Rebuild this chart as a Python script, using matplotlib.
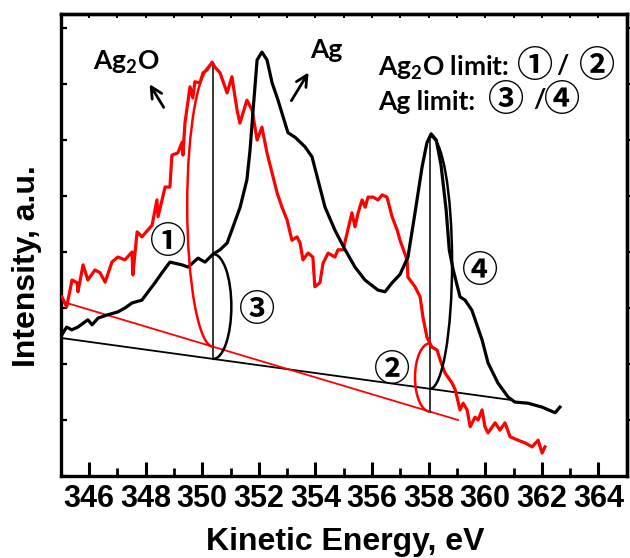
import matplotlib
matplotlib.use('Agg')
import matplotlib.pyplot as plt
from matplotlib.patches import Arc
from matplotlib.ticker import MultipleLocator
import numpy as np

# ---------------- data ----------------
ag_x = [345.04, 345.21, 345.39, 345.61, 345.96, 346.11, 346.32, 346.67, 347.02, 347.27,
        347.52, 347.87, 348.09, 348.33, 348.58, 348.86, 349.29, 349.50, 349.85, 350.10,
        350.38, 350.63, 350.88, 351.09, 351.34, 351.58, 351.69, 351.80, 351.94, 352.11,
        352.29, 352.47, 352.68, 353.03, 353.28, 353.63, 353.88, 354.09, 354.34, 354.69,
        355.05, 355.40, 355.75, 356.21, 356.46, 356.71, 356.99, 357.27, 357.52, 357.77,
        357.94, 358.09, 358.27, 358.44, 358.62, 358.73, 358.87, 359.11, 359.29, 359.53,
        359.89, 360.10, 360.45, 360.81, 361.05, 361.51, 362.01, 362.47, 362.64]
ag_y = [2.52, 2.66, 2.61, 2.66, 2.79, 2.70, 2.82, 2.88, 2.93, 3.00,
        3.09, 3.14, 3.29, 3.45, 3.63, 3.82, 3.77, 3.73, 3.89, 3.82,
        3.96, 4.04, 4.16, 4.45, 4.80, 5.29, 5.82, 6.54, 7.43, 7.57,
        7.43, 7.02, 6.71, 6.13, 6.05, 5.88, 5.70, 5.29, 4.80, 4.39,
        4.04, 3.73, 3.50, 3.32, 3.29, 3.45, 3.60, 3.91, 4.70, 5.52,
        5.95, 6.11, 6.00, 5.55, 4.75, 4.04, 3.68, 3.20, 3.14, 2.96,
        2.43, 2.02, 1.66, 1.41, 1.32, 1.30, 1.23, 1.13, 1.23]

ag2o_x = [345.04, 345.21, 345.33, 345.40, 345.58, 345.61, 345.79, 345.96, 346.21, 346.39,
          346.57, 346.81, 347.02, 347.27, 347.52, 347.55, 347.70, 347.87, 348.23, 348.40,
          348.44, 348.69, 348.86, 348.93, 349.14, 349.29, 349.32, 349.39, 349.57, 349.67,
          349.74, 349.92, 350.03, 350.17, 350.35, 350.45, 350.63, 350.88, 351.05, 351.23,
          351.33, 351.58, 351.76, 351.94, 352.11, 352.29, 352.47, 352.65, 352.82, 353.00,
          353.17, 353.35, 353.46, 353.56, 353.74, 353.91, 353.98, 354.16, 354.27, 354.45,
          354.69, 354.80, 354.98, 355.29, 355.40, 355.51, 355.65, 355.76, 355.86, 356.04,
          356.21, 356.36, 356.53, 356.71, 356.89, 356.99, 357.24, 357.27, 357.52, 357.70,
          357.80, 357.94, 358.12, 358.30, 358.41, 358.58, 358.83, 358.94, 359.11, 359.22,
          359.36, 359.47, 359.64, 359.75, 359.89, 359.99, 360.10, 360.35, 360.52, 360.70,
          360.88, 361.16, 361.41, 361.66, 361.87, 362.01, 362.11]
ag2o_y = [3.20, 3.02, 3.32, 3.50, 3.45, 3.29, 3.77, 3.50, 3.68, 3.63,
          3.46, 3.82, 3.91, 3.86, 4.00, 3.59, 4.36, 4.27, 4.48, 4.93,
          4.63, 5.16, 5.16, 5.73, 5.77, 5.96, 5.73, 6.30, 6.95, 6.75,
          7.04, 7.02, 7.20, 7.25, 7.39, 7.30, 7.20, 6.84, 7.13, 6.54,
          6.30, 6.71, 6.54, 6.00, 6.23, 5.77, 5.41, 5.05, 4.80, 4.57,
          4.21, 4.27, 4.16, 3.86, 3.98, 3.91, 3.38, 3.45, 3.80, 3.98,
          3.91, 4.04, 4.04, 4.70, 4.45, 4.70, 4.93, 4.80, 4.98, 4.98,
          4.93, 5.02, 4.98, 4.63, 4.39, 4.21, 3.86, 3.55, 3.38, 3.20,
          2.84, 2.48, 2.30, 2.25, 2.07, 1.84, 1.66, 1.54, 1.18, 1.30,
          1.18, 0.88, 1.05, 1.00, 1.18, 0.88, 0.77, 0.95, 0.82, 0.95,
          0.70, 0.64, 0.59, 0.52, 0.64, 0.41, 0.52]

# linear backgrounds (end points)
ag_base_x = [345.08, 360.88]
ag_base_y = [2.46, 1.36]
ag2o_base_x = [345.08, 359.04]
ag2o_base_y = [3.11, 1.00]

# limit positions (eV) and half-widths of the limit arcs (eV)
limit_x = [350.39, 358.05]
arc_half_w = {'1': 0.92, '3': 0.64, '2': 0.53, '4': 0.78}

x_ticks = [346, 348, 350, 352, 354, 356, 358, 360, 362, 364]

# ---------------- figure ----------------
W, H = 630, 558
fig = plt.figure(figsize=(W / 100, H / 100), dpi=100)
ax = fig.add_axes([60.7 / W, 1 - 476 / H, (626.7 - 60.7) / W, (476 - 14) / H])

RED = '#ff0000'
ax.plot(ag2o_x, ag2o_y, color=RED, lw=2.3, zorder=3)
ax.plot(ag_x, ag_y, color='black', lw=2.3, zorder=3)
ax.plot(ag_base_x, ag_base_y, color='black', lw=1.3, zorder=2)
ax.plot(ag2o_base_x, ag2o_base_y, color=RED, lw=1.3, zorder=2)

def interp(xs, ys, x):
    return float(np.interp(x, xs, ys))

xa, xb = limit_x
# vertical limit lines
ax.plot([xa, xa], [interp(ag_base_x, ag_base_y, xa), interp(ag2o_x, ag2o_y, xa)],
        color='black', lw=1.1, zorder=2)
ax.plot([xb, xb], [interp(ag2o_base_x, ag2o_base_y, xb), interp(ag_x, ag_y, xb)],
        color='black', lw=1.1, zorder=2)

def half_arc(x, top, bot, hw, side, color):
    if side == 'left':
        t1, t2 = 90, 270
    else:
        t1, t2 = -90, 90
    a = Arc((x, (top + bot) / 2), 2 * hw, top - bot, theta1=t1, theta2=t2,
            color=color, lw=1.8, zorder=4)
    ax.add_patch(a)

half_arc(xa, interp(ag2o_x, ag2o_y, xa), interp(ag2o_base_x, ag2o_base_y, xa), arc_half_w['1'], 'left', RED)
half_arc(xa, interp(ag_x, ag_y, xa), interp(ag_base_x, ag_base_y, xa), arc_half_w['3'], 'right', 'black')
half_arc(xb, interp(ag2o_x, ag2o_y, xb), interp(ag2o_base_x, ag2o_base_y, xb), arc_half_w['2'], 'left', RED)
half_arc(xb, interp(ag_x, ag_y, xb), interp(ag_base_x, ag_base_y, xb), arc_half_w['4'], 'right', 'black')

# axes
ax.set_xlim(345, 365)
ax.set_ylim(0, 8.25)
ax.set_xticks(x_ticks)
ax.xaxis.set_minor_locator(MultipleLocator(1))
ax.set_yticks(range(0, 9))
ax.set_yticklabels([])
for s in ax.spines.values():
    s.set_linewidth(2.4)

tick_font = {'family': ['Liberation Sans'], 'weight': 'bold', 'size': 22}
ax.set_xticklabels([str(t) for t in x_ticks], fontdict=tick_font)
ax.tick_params(axis='x', which='major', direction='in', length=10, width=2.2, pad=6)
ax.tick_params(axis='x', which='minor', direction='in', length=6, width=2.0)
ax.tick_params(axis='y', which='major', direction='in', length=4, width=1.6)
ax.tick_params(axis='y', which='minor', left=False)

secx = ax.secondary_xaxis('top')
secx.set_xticks(range(346, 365))
secx.tick_params(direction='in', length=3, width=1.4, labeltop=False)
secx.spines['top'].set_linewidth(2.4)
secy = ax.secondary_yaxis('right')
secy.set_yticks(range(1, 9))
secy.tick_params(direction='out', length=4, width=1.4, labelright=False)
secy.spines['right'].set_linewidth(2.4)

# labels
lab_font = dict(family=['Liberation Sans'], weight='bold', size=23)
fig.text(345 / W, 1 - 550 / H, 'Kinetic Energy, eV', ha='center', va='baseline', **lab_font)
fig.text(27 / W, 1 - 266 / H, 'Intensity, a.u.', ha='center', va='center', rotation=90, **lab_font)

# annotations
plt.rcParams['mathtext.fontset'] = 'custom'
plt.rcParams['mathtext.rm'] = 'Lato:bold'
plt.rcParams['mathtext.it'] = 'Lato:bold'
plt.rcParams['mathtext.bf'] = 'Lato:bold'
ann_font = dict(family=['Lato', 'Noto Sans CJK SC', 'DejaVu Sans'], weight='bold', size=19)
circ_font = dict(family=['Noto Sans CJK SC', 'DejaVu Sans'], weight='bold', size=26)

def ftext(px, py, s, fd, ha='left', va='baseline'):
    fig.text(px / W, 1 - py / H, s, ha=ha, va=va, **fd)

ftext(93, 70, r'Ag$_2$O', ann_font)
ftext(310, 58, 'Ag', ann_font)
ftext(378, 76, r'Ag$_2$O limit:', ann_font)
ftext(378, 110, 'Ag limit:', ann_font)
ftext(535, 66, '①', circ_font, ha='center', va='center')
ftext(562, 66, '/', ann_font, ha='center', va='center')
ftext(597, 66, '②', circ_font, ha='center', va='center')
ftext(506, 100, '③', circ_font, ha='center', va='center')
ftext(539, 100, '/', ann_font, ha='center', va='center')
ftext(562, 100, '④', circ_font, ha='center', va='center')

ftext(168, 242, '①', circ_font, ha='center', va='center')
ftext(257, 310, '③', circ_font, ha='center', va='center')
ftext(392, 370, '②', circ_font, ha='center', va='center')
ftext(480, 272, '④', circ_font, ha='center', va='center')

# arrows
ax.annotate('', xy=(348.09, 7.04), xytext=(348.69, 6.54),
            arrowprops=dict(arrowstyle='->', lw=2.0, color='black', mutation_scale=20))
ax.annotate('', xy=(353.81, 7.25), xytext=(353.10, 6.66),
            arrowprops=dict(arrowstyle='->', lw=2.0, color='black', mutation_scale=20))

fig.savefig('out.png', dpi=100)
